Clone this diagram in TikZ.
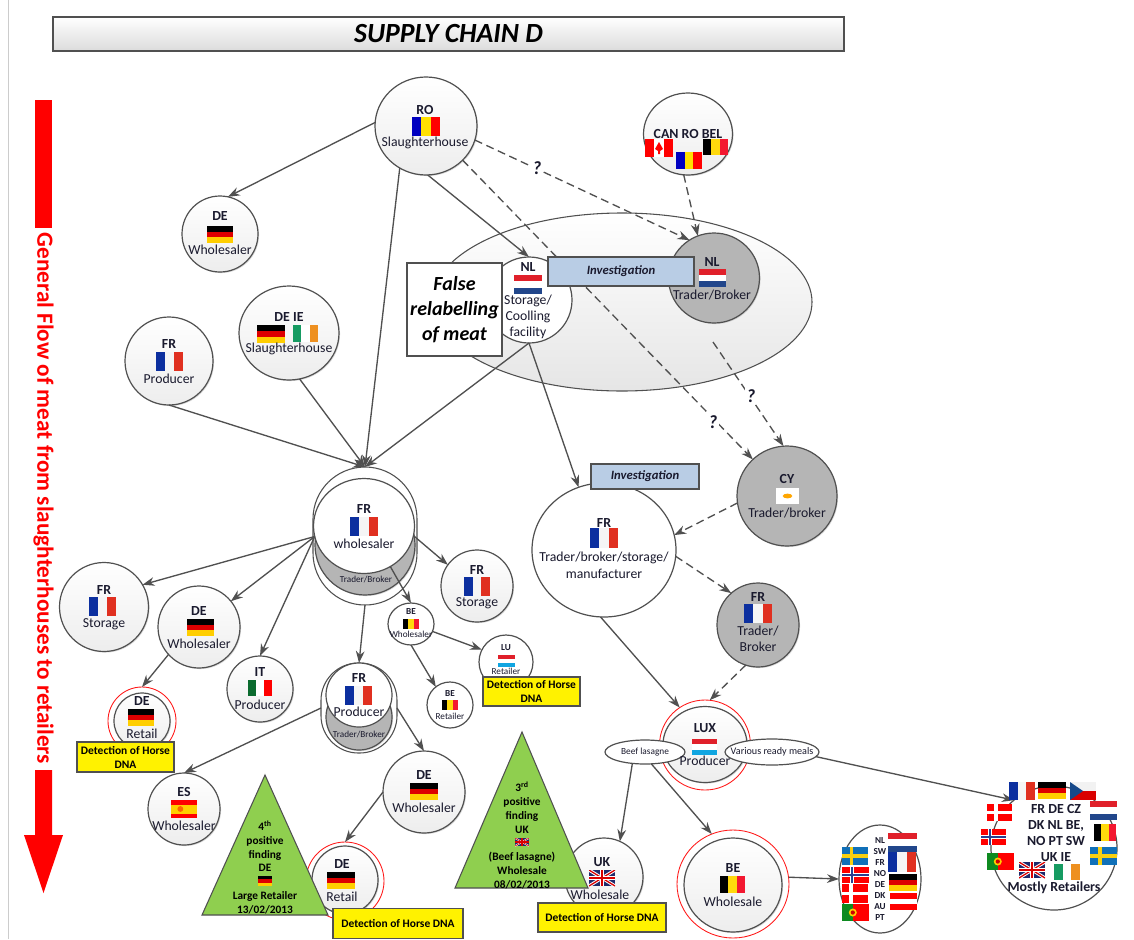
\documentclass[tikz,border=0pt]{standalone}
\usepackage{fontspec}
\setmainfont{Carlito}
\usetikzlibrary{shapes.geometric,arrows.meta,shadows}
\definecolor{ink}{HTML}{1A1A2E}
\definecolor{lnk}{HTML}{505050}
\definecolor{frb}{HTML}{0C2F9F}\definecolor{frr}{HTML}{E03020}
\definecolor{der}{HTML}{DD0000}\definecolor{dey}{HTML}{FFCE00}
\definecolor{bey}{HTML}{FFD90C}\definecolor{ber}{HTML}{F31830}
\definecolor{rob}{HTML}{0000C0}\definecolor{roy}{HTML}{FFE000}
\definecolor{nlr}{HTML}{E0202A}\definecolor{nlb}{HTML}{21468B}
\definecolor{lub}{HTML}{10A5E1}
\definecolor{itg}{HTML}{0B6B2F}\definecolor{ieg}{HTML}{169B62}\definecolor{ieo}{HTML}{EE9020}
\definecolor{seb}{HTML}{1070B8}\definecolor{sey}{HTML}{F8D010}
\definecolor{ukb}{HTML}{1F2A6B}\definecolor{nob}{HTML}{2A3F90}
\definecolor{ptg}{HTML}{0E8A20}
\definecolor{czb}{HTML}{17498A}
\definecolor{invb}{HTML}{B9CDE5}
\definecolor{tri}{HTML}{8FCF4F}
\newcounter{lb}
\newcommand\lab[4][tr]{\stepcounter{lb}\node[#1] (lb\arabic{lb}) at (#2,#3) {#4};}
\newcommand\ftv[7]{\pgfmathsetmacro\xa{#1+(#3-#1)/3}\pgfmathsetmacro\xb{#1+2*(#3-#1)/3}%
 \fill[#5] (#1,#2) rectangle (\xa,#4);\fill[#6] (\xa,#2) rectangle (\xb,#4);\fill[#7] (\xb,#2) rectangle (#3,#4);}
\newcommand\fth[7]{\pgfmathsetmacro\ya{#2+(#4-#2)/3}\pgfmathsetmacro\yb{#2+2*(#4-#2)/3}%
 \fill[#5] (#1,#2) rectangle (#3,\ya);\fill[#6] (#1,\ya) rectangle (#3,\yb);\fill[#7] (#1,\yb) rectangle (#3,#4);}
\newcommand\FRf[4]{\ftv{#1}{#2}{#3}{#4}{frb}{white!96!black}{frr}}
\newcommand\DEf[4]{\fth{#1}{#2}{#3}{#4}{black}{der}{dey}}
\newcommand\BEf[4]{\ftv{#1}{#2}{#3}{#4}{black}{bey}{ber}}
\newcommand\ROf[4]{\ftv{#1}{#2}{#3}{#4}{rob}{roy}{red}}
\newcommand\NLf[4]{\fth{#1}{#2}{#3}{#4}{nlr}{white}{nlb}}
\newcommand\LUf[4]{\fth{#1}{#2}{#3}{#4}{nlr}{white}{lub}}
\newcommand\ATf[4]{\fth{#1}{#2}{#3}{#4}{red}{white}{red}}
\newcommand\ITf[4]{\ftv{#1}{#2}{#3}{#4}{itg}{white}{red}}
\newcommand\IEf[4]{\ftv{#1}{#2}{#3}{#4}{ieg}{white}{ieo}}
\newcommand\CAf[4]{\ftv{#1}{#2}{#3}{#4}{red}{white}{red}\pgfmathsetmacro\xm{(#1+#3)/2}\pgfmathsetmacro\ym{(#2+#4)/2}%
 \fill[red] (\xm,\ym-6) -- (\xm+4,\ym+1) -- (\xm+1,\ym+3) -- (\xm+1,\ym+6) -- (\xm-1,\ym+6) -- (\xm-1,\ym+3) -- (\xm-4,\ym+1) -- cycle;}
\newcommand\ESf[4]{\fill[red] (#1,#2) rectangle (#3,#4);\pgfmathsetmacro\ya{#2+(#4-#2)/4}\pgfmathsetmacro\yb{#2+3*(#4-#2)/4}%
 \fill[dey] (#1,\ya) rectangle (#3,\yb);\fill[orange!80!red] ({#1+(#3-#1)*.36},{(#2+#4)/2}) circle[radius=2.2pt];}
\newcommand\CRf[8]{\pgfmathsetmacro\xm{#1+(#3-#1)*.36}\pgfmathsetmacro\ym{(#2+#4)/2}\pgfmathsetmacro\lw{(#4-#2)*.75}%
 \fill[#5] (#1,#2) rectangle (#3,#4);
 \draw[#6,line width=\lw*#8 pt] (\xm,#2) -- (\xm,#4) (#1,\ym) -- (#3,\ym);
 \draw[#7,line width=\lw*#8*.45 pt] (\xm,#2) -- (\xm,#4) (#1,\ym) -- (#3,\ym);}
\newcommand\DKf[4]{\CRf{#1}{#2}{#3}{#4}{red}{white}{white}{.2}}
\newcommand\NOf[4]{\CRf{#1}{#2}{#3}{#4}{red}{white}{nob}{.24}}
\newcommand\SEf[4]{\CRf{#1}{#2}{#3}{#4}{seb}{sey}{sey}{.2}}
\newcommand\PTf[4]{\pgfmathsetmacro\xm{#1+(#3-#1)*.4}\fill[red] (#1,#2) rectangle (#3,#4);\fill[ptg] (#1,#2) rectangle (\xm,#4);
 \fill[dey] (\xm,{(#2+#4)/2}) circle[radius=3pt];\fill[red!80!black] (\xm,{(#2+#4)/2}) circle[radius=1.6pt];}
\newcommand\CZf[4]{\pgfmathsetmacro\ym{(#2+#4)/2}\fill[white!95!black] (#1,#2) rectangle (#3,\ym);\fill[red!85!black] (#1,\ym) rectangle (#3,#4);
 \fill[czb] (#1,#2) -- ({#1+(#3-#1)*.5},\ym) -- (#1,#4) -- cycle;}
\newcommand\CYf[4]{\fill[white] (#1,#2) rectangle (#3,#4);\fill[orange!70!yellow] ({(#1+#3)/2},{(#2+#4)/2}) ellipse[x radius=3.6pt,y radius=1.8pt];}
\newcommand\UKf[4]{\begin{scope}\clip (#1,#2) rectangle (#3,#4);\pgfmathsetmacro\xm{(#1+#3)/2}\pgfmathsetmacro\ym{(#2+#4)/2}\pgfmathsetmacro\lw{(#4-#2)*.75}%
 \fill[ukb] (#1,#2) rectangle (#3,#4);
 \draw[white,line width=\lw*.2 pt] (#1,#2) -- (#3,#4) (#1,#4) -- (#3,#2);
 \draw[red!85!black,line width=\lw*.08 pt] (#1,#2) -- (#3,#4) (#1,#4) -- (#3,#2);
 \draw[white,line width=\lw*.3 pt] (\xm,#2) -- (\xm,#4) (#1,\ym) -- (#3,\ym);
 \draw[red!85!black,line width=\lw*.17 pt] (\xm,#2) -- (\xm,#4) (#1,\ym) -- (#3,\ym);\end{scope}}
\tikzset{
 sz/.style 2 args={minimum width=#1*1.5pt,minimum height=#2*1.5pt},
 circ/.style={ellipse,draw=lnk,line width=.9pt,inner sep=0pt,outer sep=0pt,top color=white,bottom color=black!7,
   drop shadow={shadow xshift=.8pt,shadow yshift=-.8pt,fill=black!30,opacity=.5}},
 plainc/.style={ellipse,draw=lnk,line width=.9pt,inner sep=0pt,outer sep=0pt,fill=white},
 grayc/.style={circ,top color=black!29,bottom color=black!29},
 redc/.style={ellipse,draw=red!90,line width=.65pt,inner sep=0pt,outer sep=0pt,fill=white},
 stackbox/.style={rectangle,draw=lnk,line width=.8pt,fill=white,inner sep=0pt,outer sep=0pt},
 conn/.style={draw=lnk,line width=1pt,-{Stealth[length=9pt,width=6.5pt]}},
 dconn/.style={conn,dash pattern=on 6pt off 3.5pt},
 tr/.style={inner sep=0pt,align=center,text=ink,font=\fontsize{10.3}{12}\selectfont},
 tb/.style={tr,font=\fontsize{10.4}{12}\selectfont\bfseries},
 ts/.style={tr,font=\fontsize{6.9}{8}\selectfont},
 tsb/.style={tr,font=\fontsize{6.9}{8}\selectfont\bfseries},
 tm/.style={tr,font=\fontsize{7}{9}\selectfont},
 ttri/.style={tr,text=black,font=\fontsize{8.5}{10.35}\selectfont\bfseries},
 qm/.style={inner sep=1pt,fill=white,text=ink,font=\fontsize{14}{16}\selectfont\bfseries\itshape},
 inv/.style={rectangle,draw=lnk,line width=.8pt,fill=invb,inner sep=0pt,outer sep=0pt,text=ink,font=\fontsize{9.5}{11}\selectfont\bfseries\itshape},
 det/.style={rectangle,draw=lnk,line width=.9pt,fill=yellow,inner sep=0pt,outer sep=0pt,align=center,text=black,font=\fontsize{8.6}{10.5}\selectfont\bfseries},
 triang/.style={draw=lnk,line width=.8pt,fill=tri},
}
\begin{document}
\begin{tikzpicture}[x=.75pt,y=-.75pt]
\useasboundingbox (0,0) rectangle (1134,939);
\fill[white] (0,0) rectangle (1134,939);
\draw[black!20,line width=.6pt] (8,0) -- (8,939);
% title
\node[rectangle,draw=lnk,line width=.8pt,top color=white,bottom color=black!14,inner sep=0pt,sz={395.5}{17},font=\fontsize{20.8}{24}\selectfont\bfseries\itshape] (title) at (448.5,34) {SUPPLY CHAIN D};
% general flow arrow
\fill[red] (35,100) rectangle (52,228);
\fill[red] (35,770) -- (52,770) -- (52,835) -- (63,835) -- (43.5,893) -- (24,835) -- (35,835) -- cycle;
\node[rotate=-90,inner sep=0pt,text=red,font=\fontsize{17.4}{20}\selectfont\bfseries] (flow) at (43.5,498.5) {General Flow of meat from slaughterhouses to retailers};
% big ellipse
\node[ellipse,draw=lnk,line width=.8pt,inner sep=0pt,top color=white,bottom color=black!10,sz={190}{89}] (bigell) at (622,302) {};
% circles
\node[circ,sz={51}{49}] (ro) at (426,126) {};
\node[circ,sz={44.5}{41}] (can) at (688,134) {};
\node[grayc,sz={45.5}{45}] (nlt) at (714,278) {};
\node[plainc,sz={43}{43}] (nls) at (529,300) {};
\node[circ,sz={38}{38}] (de1) at (220,234) {};
\node[circ,sz={44}{44}] (frp) at (169,361) {};
\node[circ,sz={50}{47}] (dei) at (289,333) {};
% wholesaler stack
\node[stackbox,sz={52}{69},rounded corners=39pt] (fso) at (365,536) {};
\node[grayc,sz={50}{50}] (fsg) at (365,545) {};
\node[plainc,sz={50.5}{47.5}] (fsw) at (364,526) {};
\node[circ,sz={36}{36}] (fsr) at (477,586) {};
\node[circ,sz={44.5}{44.5}] (fsl) at (104,607) {};
\node[circ,sz={41}{41}] (dew) at (199,627) {};
\node[circ,sz={33}{33}] (it) at (260,689) {};
\node[plainc,sz={23}{21}] (bw) at (411,624) {};
\node[plainc,sz={27}{27}] (lu) at (506,662) {};
\node[plainc,sz={23}{23}] (br) at (450,705) {};
% producer stack
\node[stackbox,sz={38}{45},rounded corners=28pt] (pso) at (359,708) {};
\node[grayc,sz={33}{33}] (psg) at (359,717) {};
\node[plainc,sz={33}{32}] (psw) at (359,695) {};
% retail DE 1
\node[redc,sz={34}{34}] (ret1) at (142,721) {};
\node[circ,sz={28}{28}] (ret1i) at (142,721) {};
\node[circ,sz={41}{41}] (de2) at (424,792) {};
\node[circ,sz={36}{36}] (es) at (184,809) {};
\node[redc,sz={39}{39}] (ret2) at (345,881) {};
\node[circ,sz={33}{34}] (ret2i) at (345,880) {};
\node[circ,sz={39}{39}] (uk) at (604,877) {};
\node[grayc,sz={50}{50}] (cy) at (787,496) {};
\node[plainc,sz={72}{67}] (ft) at (604,550) {};
\node[grayc,sz={41}{42}] (ftb) at (758,625) {};
\node[redc,sz={45.5}{45}] (lux) at (705,745) {};
\node[circ,sz={42}{38}] (luxi) at (705,744.5) {};
\node[redc,sz={56}{54}] (bew) at (733,884) {};
\node[circ,sz={49}{47}] (bewi) at (733,885) {};
\node[plainc,sz={41}{54}] (lst) at (880,879) {};
\node[plainc,sz={63}{62}] (mr) at (1054,848) {};
\node[plainc,sz={40}{12}] (beef) at (645,752) {};
\node[plainc,sz={47}{13}] (var) at (772,752) {};
% connectors
\coordinate (nlt2) at (713,342);
\draw[conn] (ro.176) -- (de1.78);
\draw[conn] (ro.238) -- (fso.north);
\draw[conn] (ro.-88) -- (nls.north);
\draw[dconn] (ro.-16) -- (nlt.123);
\draw[dconn] (ro.-43) -- (cy.133);
\draw[dconn] (can.-96) -- (nlt.111);
\draw[dconn] (nlt2) -- (cy.94);
\draw[conn] (nls.south) -- (fso.north);
\draw[conn] (nls.south) -- (ft.112);
\draw[conn] (frp.south) -- (fso.north);
\draw[conn] (dei.-77) -- (fso.north);
\draw[conn] (fsw.192) -- (fsl.30);
\draw[conn] (fsw.192) -- (dew.39);
\draw[conn] (fsw.192) -- (it.north);
\draw[conn] (fsw.-11) -- (fsr.144);
\draw[conn] (fsw.-57) -- (bw.north);
\draw[conn] (fso.south) -- (pso.north);
\draw[conn] (bw.-19) -- (lu.153);
\draw[conn] (bw.south) -- (br.128);
\draw[conn] (dew.222) -- (ret1.north);
\draw[conn] (pso.west) -- (es.north);
\draw[conn] (pso.east) -- (de2.north);
\draw[conn] (de2.west) -- (ret2.north);
\draw[conn] (ft.-93) -- (lux.124);
\draw[dconn] (ftb.-107) -- (lux.84);
\draw[dconn] (cy.188) -- (ft.12);
\draw[dconn] (ft.-5) -- (ftb.130);
\draw[conn] (beef.222) -- (uk.66);
\draw[conn] (beef.-62) -- (bew.113);
\draw[conn] (var.-6) -- (mr.130);
\draw[conn] (bew.7) -- (lst.west);
\node[qm] (q1) at (537,168) {?};
\node[qm] (q2) at (713,422) {?};
\node[qm] (q3) at (751,396) {?};
% boxes over lines
\node[rectangle,draw=lnk,line width=.8pt,fill=white,inner sep=0pt,sz={47.5}{46.5},align=center,font=\fontsize{15}{18.5}\selectfont\bfseries\itshape] (false) at (454.5,309.5) {False\\relabelling\\of meat};
\node[inv,sz={73}{14.5}] (inv1) at (621,271.5) {Investigation};
\node[inv,sz={54}{12.5}] (inv2) at (645,476.5) {Investigation};
% flags
\ROf{412}{117}{440}{136}
\CAf{645}{139}{673}{157}\ROf{676}{152}{702}{169}\BEf{703}{139}{728}{155}
\NLf{699}{269}{726}{287}
\NLf{514}{275}{542}{294}
\DEf{207}{226}{233}{243}
\FRf{156}{352}{183}{371}
\DEf{257}{325}{285}{343}\IEf{293}{325}{318}{342}
\FRf{350}{517}{378}{536}
\FRf{89}{597}{116}{616}
\DEf{187}{619}{214}{636}
\ITf{248}{680}{272}{696}
\DEf{128}{709}{154}{726}
\FRf{464}{577}{490}{596}
\BEf{403}{619}{419}{629}
\LUf{498}{655}{515}{667}
\BEf{442}{700}{458}{710}
\FRf{345}{686}{372}{705}
\DEf{410}{783}{438}{800}
\ESf{171}{800}{197}{818}
\DEf{327}{872}{355}{889}
\UKf{589}{870}{615}{886}
\CYf{776}{488}{799}{504}
\FRf{590}{528}{618}{548}
\FRf{744}{604}{772}{623}
\LUf{692}{739}{717}{755}
\BEf{720}{876}{745}{893}
\SEf{842}{847}{868}{865}\NOf{842}{867}{869}{883}\DKf{842}{884}{868}{903}\PTf{842}{904}{869}{921}
\NLf{888}{833}{917}{852}\FRf{888}{852}{916}{872}\DEf{889}{874}{917}{891}\ATf{890}{893}{917}{910}
\FRf{1009}{782}{1035}{800}\DEf{1038}{782}{1066}{799}\CZf{1070}{782}{1096}{800}
\DKf{987}{804}{1012}{821}\NLf{1090}{801}{1117}{820}\NOf{981}{829}{1006}{845}\BEf{1094}{824}{1116}{841}
\SEf{1090}{847}{1117}{865}\PTf{987}{853}{1014}{870}\UKf{1019}{862}{1045}{878}\IEf{1054}{864}{1080}{880}
% labels
\lab[tb]{425}{110}{RO}\lab{425}{143}{Slaughterhouse}
\lab[tb]{688}{134}{CAN RO BEL}
\lab[tb]{712}{262}{NL}\lab{712}{295}{Trader/Broker}
\lab[tb]{528}{267}{NL}
\node[tr,font=\fontsize{10.3}{12.2}\selectfont] (nlstxt) at (528,317) {Storage/\\Coolling\\facility};
\lab[tb]{220}{216}{DE}\lab{220}{250}{Wholesaler}
\lab[tb]{169}{344}{FR}\lab{169}{379}{Producer}
\lab[tb]{289}{317}{DE IE}\lab{289}{349}{Slaughterhouse}
\lab[tb]{364}{509}{FR}\lab{364}{544}{wholesaler}
\lab[ts]{366}{579}{Trader/Broker}
\lab[tb]{104}{590}{FR}\lab{104}{624}{Storage}
\lab[tb]{199}{611}{DE}\lab{199}{644}{Wholesaler}
\lab[tb]{260}{672}{IT}\lab{260}{705}{Producer}
\lab[tb]{142}{701}{DE}\lab{142}{734}{Retail}
\lab[tb]{477}{570}{FR}\lab{477}{603}{Storage}
\lab[tsb]{411}{612}{BE}\lab[ts]{411}{634}{Wholesaler}
\lab[tsb]{506}{648}{LU}\lab[ts]{506}{671}{Retailer}
\lab[tsb]{450}{694}{BE}\lab[ts]{450}{716}{Retailer}
\lab[tb]{359}{678}{FR}\lab{359}{712}{Producer}
\lab[ts]{359}{734}{Trader/Broker}
\lab[tb]{424}{775}{DE}\lab{424}{808}{Wholesaler}
\lab[tb]{184}{792}{ES}\lab{184}{826}{Wholesaler}
\lab[tb]{342}{864}{DE}\lab{342}{897}{Retail}
\lab[tb]{602}{862}{UK}\lab{600}{895}{Wholesale}
\lab[tb]{787}{479}{CY}\lab{787}{513}{Trader/broker}
\lab[tb]{604}{523}{FR}
\node[tr,font=\fontsize{10.3}{12.8}\selectfont] (fttxt) at (604,565) {Trader/broker/storage/\\manufacturer};
\lab[tb]{758}{597}{FR}
\node[tr,font=\fontsize{10.3}{12.2}\selectfont] (ftbtxt) at (758,639) {Trader/\\Broker};
\lab[tb]{705}{728}{LUX}\lab{705}{761}{Producer}
\node[tm,inner sep=0pt] (beeft) at (645,752) {Beef lasagne};
\node[tm,inner sep=0pt,font=\fontsize{7.6}{9}\selectfont] (vart) at (772,752) {Various ready meals};
\lab[tb]{733}{868}{BE}\lab{733}{902}{Wholesale}
\node[tsb,align=center,font=\fontsize{6.9}{8.25}\selectfont\bfseries] (lsttxt) at (880,879) {NL\\SW\\FR\\NO\\DE\\DK\\AU\\PT};
\node[tb,font=\fontsize{10.4}{12}\selectfont\bfseries] (mrtxt) at (1056,833) {FR DE CZ\\DK NL BE,\\NO PT SW\\UK IE};
\lab[tb]{1054}{888}{Mostly Retailers}
% triangles
\draw[triang] (265,775) -- (202,915) -- (328,915) -- cycle;
\draw[triang] (522,732) -- (455,888) -- (588,888) -- cycle;
\DEf{258}{876}{272}{886}
\UKf{515}{838}{529}{846}
\node[ttri] (t4) at (265,867.5) {4\textsuperscript{th}\\positive\\finding\\DE\\[10.35pt]Large Retailer\\13/02/2013};
\node[ttri] (t3) at (522,835.5) {3\textsuperscript{rd}\\positive\\finding\\UK\\[10.35pt](Beef lasagne)\\Wholesale\\08/02/2013};
% yellow boxes
\node[det,sz={48.5}{15}] (d1) at (125.5,757) {Detection of Horse\\DNA};
\node[det,sz={48.5}{14.5}] (d2) at (531.5,691.5) {Detection of Horse\\DNA};
\node[det,sz={65}{15}] (d3) at (398,923.5) {Detection of Horse DNA};
\node[det,sz={64}{14.5}] (d4) at (602,917.5) {Detection of Horse DNA};
\end{tikzpicture}
\end{document}
